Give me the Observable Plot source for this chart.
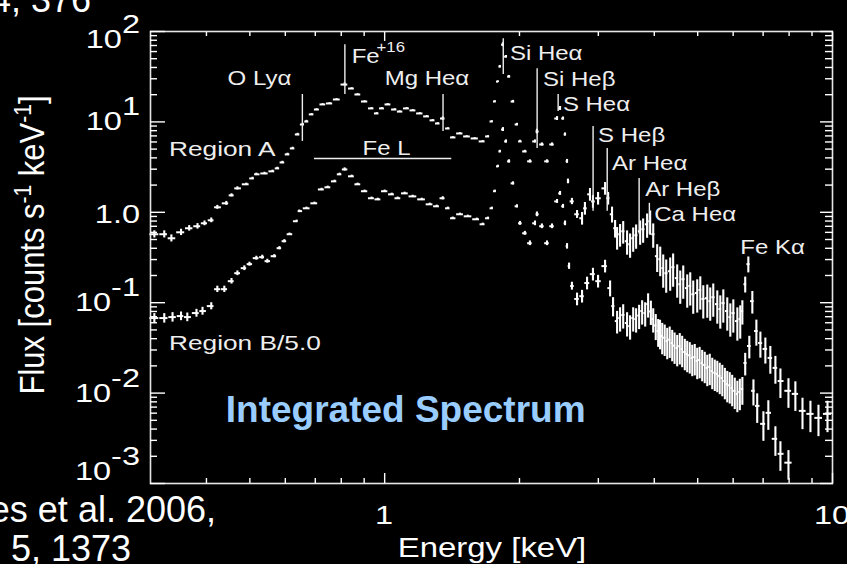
<!DOCTYPE html>
<html>
<head>
<meta charset="utf-8">
<script src="https://cdn.jsdelivr.net/npm/d3@7"></script>
<script src="https://cdn.jsdelivr.net/npm/@observablehq/plot@0.6"></script>
<style>
  html, body { margin: 0; padding: 0; background: #000; overflow: hidden; }
  #chart svg { display: block; }
</style>
</head>
<body>
<div id="chart"></div>
<script>
// ---- Spectrum data: [energy keV, flux counts/s/keV, fractional error] ----
const regionA = [
[0.306,0.572,0.09],[0.322,0.572,0.09],[0.334,0.516,0.09],[0.351,0.601,0.08],[0.366,0.666,0.07],
[0.382,0.701,0.07],[0.396,0.756,0.06],[0.410,0.816,0.06],[0.423,1.136,0.05],[0.443,1.257,0.05],
[0.455,1.54,0.04],[0.469,1.84,0.04],[0.491,2.04,0.03],[0.507,2.37,0.03],[0.517,2.63,0.03],
[0.539,2.69,0.03],[0.562,2.84,0.03],[0.576,3.06,0.03],[0.591,3.56,0.03],[0.607,4.37,0.03],
[0.623,5.09,0.03],[0.639,7.26,0.03],[0.656,9.36,0.03],[0.669,10.1,0.03],[0.687,12.1,0.02],
[0.705,13.7,0.02],[0.727,15.6,0.02],[0.753,16.0,0.02],[0.781,17.7,0.02],[0.814,25.9,0.04],
[0.844,23.4,0.02],[0.870,20.1,0.02],[0.902,16.8,0.02],[0.935,14.1,0.02],[0.960,12.4,0.02],
[0.985,14.1,0.02],[1.016,15.6,0.02],[1.053,13.7,0.02],[1.080,13.0,0.02],[1.120,14.1,0.02],
[1.155,13.4,0.02],[1.198,12.4,0.02],[1.242,11.5,0.02],[1.280,10.4,0.02],[1.314,9.60,0.02],
[1.348,10.9,0.04],[1.384,8.45,0.02],[1.419,6.73,0.02],[1.472,7.45,0.02],[1.525,6.90,0.02],
[1.589,6.56,0.02],[1.656,6.08,0.02],[1.700,6.90,0.02],[1.735,10.1,0.02],[1.762,16.8,0.02],
[1.790,27.9,0.02],[1.808,40.9,0.03],[1.837,71.5,0.05],[1.866,52.7,0.03],[1.894,31.7,0.03],
[1.934,16.8,0.03],[1.974,9.36,0.03],[2.005,6.08,0.03],[2.056,4.71,0.03],[2.110,3.66,0.04],
[2.166,6.08,0.04],[2.188,7.83,0.06],[2.244,5.63,0.04],[2.304,3.66,0.04],[2.364,5.63,0.04],
[2.426,10.9,0.05],[2.464,14.1,0.05],[2.502,10.9,0.04],[2.528,7.26,0.04],[2.554,3.66,0.05],
[2.566,2.20,0.06],[2.619,1.32,0.08],[2.689,0.951,0.10],[2.759,0.859,0.16],[2.800,1.107,0.16],
[2.874,1.58,0.16],[2.918,1.32,0.16],[2.996,1.43,0.16],[3.106,1.84,0.16],[3.155,1.43,0.16],
[3.219,0.951,0.2],[3.270,0.666,0.22],[3.304,0.530,0.28],[3.355,0.572,0.28],[3.409,0.617,0.28],
[3.478,0.479,0.3],[3.532,0.443,0.3],[3.589,0.516,0.3],[3.643,0.557,0.3],[3.720,0.617,0.3],
[3.777,0.649,0.3],[3.855,0.737,0.3],[3.916,0.796,0.3],[3.978,0.572,0.3],[4.060,0.327,0.34],
[4.124,0.303,0.36],[4.188,0.241,0.4],[4.253,0.212,0.4],[4.341,0.223,0.4],[4.407,0.247,0.4],
[4.500,0.187,0.4],[4.571,0.160,0.4],[4.642,0.182,0.4],[4.738,0.145,0.4],[4.812,0.153,0.4],
[4.887,0.124,0.4],[4.988,0.128,0.4],[5.067,0.138,0.4],[5.146,0.110,0.4],[5.253,0.112,0.4],
[5.333,0.104,0.4],[5.417,0.115,0.4],[5.530,0.0965,0.4],[5.616,0.085,0.4],[5.704,0.099,0.4],
[5.821,0.0808,0.4],[5.913,0.0693,0.4],[6.005,0.0768,0.4],[6.131,0.0626,0.4],[6.223,0.0659,0.4],
[6.291,0.0808,0.3],[6.384,0.160,0.2],[6.487,0.267,0.2],[6.622,0.104,0.28],[6.761,0.0486,0.32],
[6.902,0.0358,0.32],[7.081,0.0308,0.32],[7.264,0.0245,0.34],[7.456,0.0190,0.34],[7.651,0.0136,0.36],
[7.974,0.0106,0.36],[8.262,0.0098,0.36],[8.570,0.00636,0.38],[8.928,0.00589,0.38],[9.304,0.00532,0.38],
[9.746,0.00589,0.38]
];
const regionB = [
[0.306,0.0676,0.12],[0.322,0.0676,0.12],[0.336,0.0693,0.12],[0.351,0.0711,0.11],[0.3625,0.0693,0.11],
[0.380,0.0768,0.1],[0.392,0.0808,0.1],[0.410,0.0917,0.09],[0.423,0.141,0.08],[0.4385,0.141,0.08],
[0.455,0.173,0.07],[0.469,0.212,0.06],[0.486,0.241,0.06],[0.499,0.267,0.05],[0.517,0.311,0.05],
[0.533,0.319,0.05],[0.547,0.288,0.05],[0.567,0.327,0.04],[0.582,0.401,0.04],[0.597,0.479,0.04],
[0.613,0.572,0.03],[0.636,0.796,0.03],[0.645,1.03,0.03],[0.669,1.107,0.03],[0.697,1.257,0.03],
[0.723,1.79,0.03],[0.746,1.89,0.03],[0.773,2.20,0.03],[0.793,2.63,0.03],[0.814,2.98,0.04],
[0.844,2.50,0.03],[0.870,2.04,0.03],[0.902,1.71,0.03],[0.935,1.43,0.03],[0.965,1.39,0.03],
[1.000,1.71,0.03],[1.037,1.58,0.03],[1.069,1.43,0.03],[1.108,1.62,0.03],[1.155,1.50,0.03],
[1.210,1.39,0.03],[1.261,1.225,0.03],[1.307,1.165,0.03],[1.348,1.43,0.04],[1.384,1.107,0.03],
[1.419,0.859,0.03],[1.472,0.951,0.03],[1.533,0.903,0.03],[1.606,0.837,0.03],[1.656,0.737,0.03],
[1.700,0.859,0.03],[1.735,1.107,0.03],[1.762,1.71,0.03],[1.790,3.22,0.03],[1.808,4.71,0.03],
[1.837,8.24,0.05],[1.866,6.08,0.04],[1.894,3.66,0.04],[1.934,2.09,0.04],[1.974,1.165,0.04],
[2.005,0.756,0.05],[2.056,0.586,0.05],[2.110,0.455,0.06],[2.166,0.756,0.06],[2.188,0.951,0.06],
[2.244,0.701,0.06],[2.304,0.455,0.06],[2.364,0.701,0.06],[2.426,1.32,0.05],[2.464,1.62,0.05],
[2.502,1.165,0.05],[2.528,0.756,0.06],[2.554,0.421,0.07],[2.581,0.254,0.08],[2.619,0.153,0.1],
[2.689,0.110,0.16],[2.759,0.118,0.16],[2.831,0.165,0.16],[2.918,0.207,0.16],[2.996,0.173,0.16],
[3.106,0.254,0.16],[3.187,0.145,0.2],[3.236,0.0917,0.24],[3.304,0.0626,0.28],[3.355,0.0676,0.3],
[3.409,0.0730,0.3],[3.478,0.0596,0.3],[3.532,0.0551,0.3],[3.589,0.0676,0.3],[3.643,0.0659,0.3],
[3.700,0.0720,0.3],[3.758,0.0808,0.3],[3.817,0.0768,0.3],[3.875,0.0965,0.3],[3.930,0.0800,0.3],
[3.978,0.0659,0.3],[4.030,0.0560,0.32],[4.081,0.0486,0.34],[4.120,0.0470,0.36],[4.167,0.0428,0.38],
[4.220,0.0410,0.38],[4.275,0.0377,0.38],[4.330,0.0390,0.38],[4.386,0.0358,0.38],[4.440,0.0335,0.38],
[4.500,0.0315,0.38],[4.560,0.0330,0.38],[4.617,0.0308,0.38],[4.680,0.0285,0.38],[4.738,0.0271,0.38],
[4.800,0.0262,0.38],[4.862,0.0245,0.38],[4.925,0.0250,0.38],[4.988,0.0227,0.38],[5.050,0.0232,0.38],
[5.117,0.0215,0.38],[5.185,0.0205,0.38],[5.253,0.0190,0.38],[5.320,0.0195,0.38],[5.389,0.0176,0.38],
[5.460,0.0168,0.38],[5.530,0.0163,0.38],[5.600,0.0155,0.38],[5.675,0.0147,0.38],[5.750,0.0136,0.38],
[5.821,0.0126,0.38],[5.895,0.0122,0.38],[5.970,0.0114,0.38],[6.050,0.0106,0.38],[6.131,0.0098,0.38],
[6.210,0.0103,0.38],[6.291,0.0111,0.34],[6.384,0.0215,0.28],[6.520,0.0332,0.28],[6.660,0.0106,0.32],
[6.790,0.00722,0.36],[7.010,0.00457,0.36],[7.190,0.00605,0.36],[7.456,0.00312,0.36],[7.651,0.00213,0.36],
[7.974,0.00170,0.36]
];

// ---- Line identifications ----
const lineMarkers = [
  {line:"O Lyα", energy:0.655, top:20.1, bottom:6.08},
  {line:"Fe+16", energy:0.815, top:71.5, bottom:20.1},
  {line:"Mg Heα", energy:1.35, top:20.1, bottom:7.83},
  {line:"Si Heα", energy:1.84, top:83.3, bottom:33.4},
  {line:"Si Heβ", energy:2.19, top:38.8, bottom:5.09},
  {line:"S Heα", energy:2.44, top:20.1, bottom:13.0},
  {line:"S Heβ", energy:2.92, top:8.9, bottom:1.03},
  {line:"Ar Heα", energy:3.14, top:5.09, bottom:1.03},
  {line:"Ar Heβ", energy:3.70, top:2.37, bottom:0.572},
  {line:"Ca Heα", energy:3.90, top:1.257, bottom:0.572}
];
const lineLabels = [
  {text:"O Lyα", energy:0.446, flux:30.1},
  {text:"Fe", energy:0.844, flux:52.7},
  {text:"Mg Heα", energy:1.0, flux:30.1},
  {text:"Si Heα", energy:1.904, flux:56.9},
  {text:"Si Heβ", energy:2.257, flux:29.4},
  {text:"S Heα", energy:2.50, flux:15.6},
  {text:"S Heβ", energy:2.996, flux:7.08},
  {text:"Ar Heα", energy:3.22, flux:3.47},
  {text:"Ar Heβ", energy:3.817, flux:1.79},
  {text:"Ca Heα", energy:3.999, flux:0.951},
  {text:"Fe Kα", energy:6.223, flux:0.411}
];
const superLabels = [{text:"+16", energy:0.959, flux:66.3}];
const bandRules = [{energy1:0.697, energy2:1.412, flux:3.94}];
const bandLabels = [{text:"Fe L", energy:1.01, flux:5.09}];
const regionLabels = [
  {text:"Region A", energy:0.330, flux:4.96},
  {text:"Region B/5.0", energy:0.330, flux:0.0358}
];
const overlayLabels = [{text:"Integrated Spectrum", energy:1.114, flux:0.0064}];

// ---- Axes ----
const energyTicks = [1, 10];
const energyTickLabels = ["1", "10"];
const energyMinorTicks = [0.4,0.5,0.6,0.7,0.8,0.9,2,3,4,5,6,7,8,9];
const fluxTicks = [100, 10, 1, 0.1, 0.01, 0.001];
const fluxTickBases = ["10","10","1.0","10","10","10"];
const fluxTickExps = ["2","1","","-1","-2","-3"];
const fluxMinorTicks = [
  0.002,0.003,0.004,0.005,0.006,0.007,0.008,0.009,
  0.02,0.03,0.04,0.05,0.06,0.07,0.08,0.09,
  0.2,0.3,0.4,0.5,0.6,0.7,0.8,0.9,
  2,3,4,5,6,7,8,9,
  20,30,40,50,60,70,80,90
];
const xTitle = "Energy [keV]";
const citeLines = [
  {text:"4, 376", endX:91, baseline:12},
  {text:"es et al. 2006,", endX:216, baseline:522},
  {text:"5, 1373", endX:131, baseline:561}
];

// ---- rows with error bars (horizontal bar = part of bin width) ----
function toRows(arr, series) {
  return arr.map(([E, F, e], i) => {
    const prev = i > 0 ? arr[i-1][0] : E * E / arr[i+1][0];
    const next = i < arr.length - 1 ? arr[i+1][0] : E * E / arr[i-1][0];
    return {series, E, F, lo: F * (1 - e), hi: F * (1 + e),
      x1: E * Math.pow(prev / E, 0.45), x2: E * Math.pow(next / E, 0.45)};
  });
}
const rows = toRows(regionA, "A").concat(toRows(regionB, "B"));

const FONT = "Liberation Sans, Arial, Helvetica, sans-serif";
const plot = Plot.plot({
  width: 847, height: 564,
  marginLeft: 150, marginRight: 15, marginTop: 31, marginBottom: 81,
  x: {type: "log", domain: [0.3, 10]},
  y: {type: "log", domain: [1e-3, 1e2]},
  style: {background: "black", color: "white", fontFamily: FONT, fontSize: "20px"},
  marks: [
    Plot.ruleX(rows, {x: "E", y1: "lo", y2: "hi", stroke: "white", strokeWidth: 2.1}),
    Plot.ruleY(rows, {y: "F", x1: "x1", x2: "x2", stroke: "white", strokeWidth: 2}),
    Plot.ruleX(lineMarkers, {x: "energy", y1: "bottom", y2: "top", stroke: "#eee", strokeWidth: 1.4}),
    Plot.ruleY(bandRules, {y: "flux", x1: "energy1", x2: "energy2", stroke: "#eee", strokeWidth: 1.4}),
    Plot.text(lineLabels, {x: "energy", y: "flux", text: "text", textAnchor: "start", fontSize: 20, fill: "#eee"}),
    Plot.text(superLabels, {x: "energy", y: "flux", text: "text", textAnchor: "start", fontSize: 14, fill: "#eee"}),
    Plot.text(bandLabels, {x: "energy", y: "flux", text: "text", textAnchor: "middle", fontSize: 20, fill: "#eee"}),
    Plot.text(regionLabels, {x: "energy", y: "flux", text: "text", textAnchor: "start", fontSize: 21, fill: "#eee"}),
    Plot.text(overlayLabels, {x: "energy", y: "flux", text: "text", textAnchor: "middle", fontSize: 37, fontWeight: "bold", fill: "#99ccff"}),
    Plot.frame({stroke: "#e6e6e6", strokeWidth: 1.6}),
    Plot.axisX(energyTicks, {anchor: "bottom", tickSize: -10, tickFormat: () => "", label: null, strokeWidth: 1.4}),
    Plot.axisX(energyMinorTicks, {anchor: "bottom", tickSize: -5, tickFormat: () => "", label: null, strokeWidth: 1.4}),
    Plot.axisX(energyTicks, {anchor: "top", tickSize: -9, tickFormat: () => "", label: null, strokeWidth: 1.4}),
    Plot.axisX(energyMinorTicks, {anchor: "top", tickSize: -4, tickFormat: () => "", label: null, strokeWidth: 1.4}),
    Plot.axisY(fluxTicks, {anchor: "left", tickSize: -15, tickFormat: () => "", label: null, strokeWidth: 1.4}),
    Plot.axisY(fluxMinorTicks, {anchor: "left", tickSize: -7, tickFormat: () => "", label: null, strokeWidth: 1.4}),
    Plot.axisY(fluxTicks, {anchor: "right", tickSize: -13, tickFormat: () => "", label: null, strokeWidth: 1.4}),
    Plot.axisY(fluxMinorTicks, {anchor: "right", tickSize: -8, tickFormat: () => "", label: null, strokeWidth: 1.4})
  ]
});
document.getElementById("chart").appendChild(plot);

// ---- horizontal stretch of the chart lettering (the figure was widened) ----
const svg = d3.select(plot);
const stretch = new Map();
lineLabels.forEach(d => stretch.set(d.text, 1.2));
superLabels.forEach(d => stretch.set(d.text, 1.2));
bandLabels.forEach(d => stretch.set(d.text, 1.2));
regionLabels.forEach(d => stretch.set(d.text, 1.25));
svg.selectAll("text").each(function() {
  const s = stretch.get(this.textContent);
  if (!s) return;
  const tr = this.getAttribute("transform") || "";
  this.setAttribute("transform", tr + ` scale(${s},1)`);
});
// remove empty axis label texts
svg.selectAll("text").filter(function() { return this.textContent === ""; }).remove();

const xs = plot.scale("x"), ys = plot.scale("y");
const labelShift = [8, 0, 2, 0, 0, -12];
fluxTicks.forEach((v, i) => {
  const y = ys.apply(v) + labelShift[i];
  const t = svg.append("text")
    .attr("transform", `translate(140,${y}) scale(1.3,1)`)
    .attr("text-anchor", "end").attr("fill", "white")
    .attr("font-family", FONT).attr("font-size", 25);
  t.append("tspan").attr("dy", "0.36em").text(fluxTickBases[i]);
  if (fluxTickExps[i]) t.append("tspan").attr("dy", -15).text(fluxTickExps[i]);
});
energyTicks.forEach((v, i) => {
  svg.append("text")
    .attr("transform", `translate(${xs.apply(v)},524) scale(1.25,1)`)
    .attr("text-anchor", "middle").attr("fill", "white")
    .attr("font-family", FONT).attr("font-size", 26)
    .text(energyTickLabels[i]);
});
svg.append("text")
  .attr("transform", "translate(492,557) scale(1.22,1)")
  .attr("text-anchor", "middle").attr("fill", "white")
  .attr("font-family", FONT).attr("font-size", 27)
  .text(xTitle);

const yt = svg.append("text")
  .attr("transform", "translate(44,245) rotate(-90) scale(1,1.15)")
  .attr("text-anchor", "middle").attr("fill", "white")
  .attr("font-family", FONT).attr("font-size", 31);
yt.append("tspan").text("Flux [counts s");
yt.append("tspan").attr("dy", -11).attr("font-size", 21).text("-1");
yt.append("tspan").attr("dy", 11).text(" keV");
yt.append("tspan").attr("dy", -11).attr("font-size", 21).text("-1");
yt.append("tspan").attr("dy", 11).text("]");

citeLines.forEach(c => {
  svg.append("text")
    .attr("x", c.endX).attr("y", c.baseline)
    .attr("text-anchor", "end").attr("fill", "white")
    .attr("font-family", FONT).attr("font-size", 36)
    .text(c.text);
});
</script>
</body>
</html>
